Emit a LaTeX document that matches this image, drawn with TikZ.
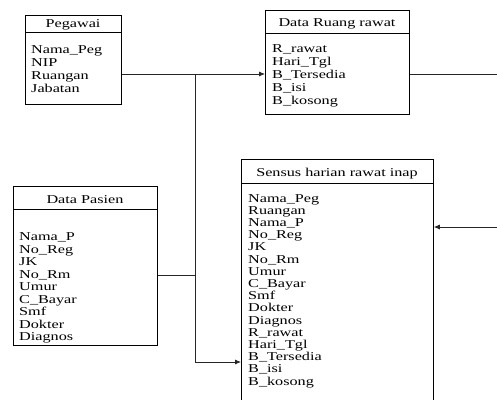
\documentclass[tikz,border=0pt]{standalone}
\usepackage{fontspec}
\setmainfont{Liberation Serif}[FakeStretch=1.35]
\usetikzlibrary{arrows.meta}
\tikzset{
  box/.style={draw=black, line width=0.8pt, anchor=north west, inner sep=0pt},
  sep/.style={draw=black, line width=0.8pt},
  conn/.style={draw=black!85, line width=0.8pt},
  arr/.style={conn, -{Latex[length=6pt,width=5pt]}},
  txt/.style={anchor=base west, inner sep=0pt, font=\fontsize{12}{12}\selectfont},
  ttl/.style={anchor=base, inner sep=0pt, font=\fontsize{12}{12}\selectfont},
}
\begin{document}
\begin{tikzpicture}[x=1pt,y=-1pt]
\clip (0,0) rectangle (497,399);
\fill[white] (0,0) rectangle (497,399);

% Pegawai
\node[box, minimum width=96pt, minimum height=89pt] (peg) at (25,15) {};
\draw[sep] ([yshift=-17pt]peg.north west) -- ([yshift=-17pt]peg.north east);
\node[ttl] (pegT) at (73,27) {Pegawai};
\foreach \t [count=\i from 0] in {Nama\_Peg,NIP,Ruangan,Jabatan}
  \node[txt] (peg\i) at (31,{53+13*\i}) {\t};

% Data Ruang rawat
\node[box, minimum width=144pt, minimum height=104pt] (ruang) at (265,10) {};
\draw[sep] ([yshift=-23pt]ruang.north west) -- ([yshift=-23pt]ruang.north east);
\node[ttl] (ruangT) at (337,26) {Data Ruang rawat};
\foreach \t [count=\i from 0] in {R\_rawat,Hari\_Tgl,B\_Tersedia,B\_isi,B\_kosong}
  \node[txt] (ruang\i) at (272,{52+13*\i}) {\t};

% Data Pasien
\node[box, minimum width=144pt, minimum height=159pt] (pas) at (13,186) {};
\draw[sep] ([yshift=-23pt]pas.north west) -- ([yshift=-23pt]pas.north east);
\node[ttl] (pasT) at (85,203) {Data Pasien};
\foreach \t [count=\i from 0] in {Nama\_P,No\_Reg,JK,No\_Rm,Umur,C\_Bayar,Smf,Dokter,Diagnos}
  \node[txt] (pas\i) at (19,{240.5+12.5*\i}) {\t};

% Sensus harian rawat inap
\node[box, minimum width=192pt, minimum height=260pt] (sen) at (241,159) {};
\draw[sep] ([yshift=-24pt]sen.north west) -- ([yshift=-24pt]sen.north east);
\node[ttl] (senT) at (337,176) {Sensus harian rawat inap};
\foreach \t [count=\i from 0] in {Nama\_Peg,Ruangan,Nama\_P,No\_Reg,JK,No\_Rm,Umur,C\_Bayar,Smf,Dokter,Diagnos,R\_rawat,Hari\_Tgl,B\_Tersedia,B\_isi,B\_kosong}
  \node[txt] (sen\i) at (248,{202+12.2*\i}) {\t};

% connectors
\coordinate (j1) at (195,74);
\coordinate (j2) at (195,275);
\coordinate (j3) at (195,362);
\coordinate (outR) at (497,74);
\coordinate (inR) at (497,227);

\draw[conn] (peg.east |- j1) -- (j1);
\draw[arr] (j1) -- (ruang.west |- j1);
\draw[conn] (pas.east |- j2) -- (j2);
\draw[conn] (j1) -- (j3);
\draw[arr] (j3) -- (sen.west |- j3);
\draw[conn] (ruang.east |- outR) -- (outR);
\draw[arr] (inR) -- (sen.east |- inR);
\end{tikzpicture}
\end{document}
